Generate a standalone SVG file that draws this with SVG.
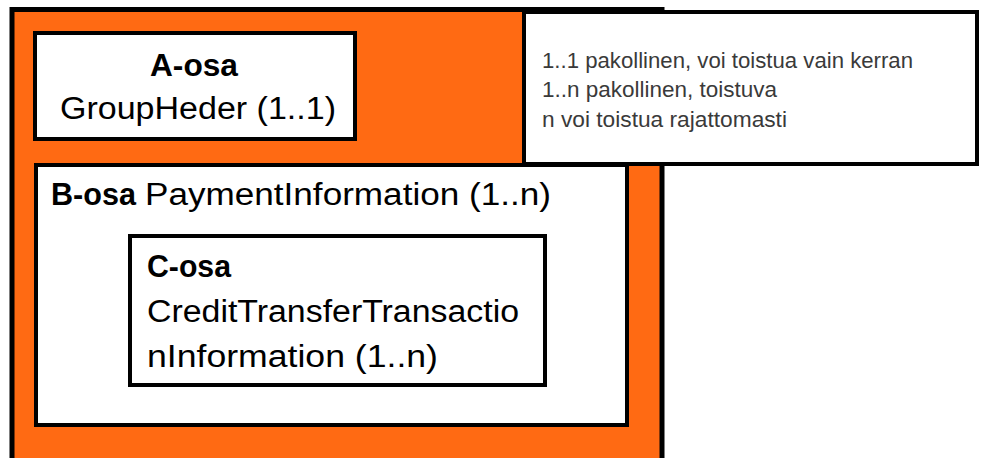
<svg xmlns="http://www.w3.org/2000/svg" width="982" height="458" viewBox="0 0 982 458">
<style>
.box{fill:#ffffff;stroke:#000000;stroke-width:4}
.t{font-family:"Liberation Sans",Arial,sans-serif;fill:#000000;font-size:31px}
.b{font-weight:bold}
.lg{font-family:"Liberation Sans",Arial,sans-serif;fill:#3a3a3a;font-size:22px}
</style>
<rect width="982" height="458" fill="#ffffff"/>
<g id="outer">
<rect x="12" y="9.5" width="650" height="470" fill="#FF6A13" stroke="#000000" stroke-width="5"/>
</g>
<g id="legend">
<rect class="box" x="524" y="12" width="453" height="152"/>
<text class="lg" x="542" y="68" textLength="371" lengthAdjust="spacingAndGlyphs">1..1 pakollinen, voi toistua vain kerran</text>
<text class="lg" x="542" y="97" textLength="235" lengthAdjust="spacingAndGlyphs">1..n pakollinen, toistuva</text>
<text class="lg" x="542" y="127" textLength="245" lengthAdjust="spacingAndGlyphs">n voi toistua rajattomasti</text>
</g>
<g id="a-osa">
<rect class="box" x="35" y="33" width="320" height="106"/>
<text class="t b" x="150" y="76" textLength="88" lengthAdjust="spacingAndGlyphs">A-osa</text>
<text class="t" x="60" y="119" textLength="276" lengthAdjust="spacingAndGlyphs">GroupHeder (1..1)</text>
</g>
<g id="b-osa">
<rect class="box" x="36" y="165" width="591" height="260"/>
<text class="t b" x="51" y="205" textLength="85" lengthAdjust="spacingAndGlyphs">B-osa</text>
<text class="t" x="145" y="205" textLength="406" lengthAdjust="spacingAndGlyphs">PaymentInformation (1..n)</text>
</g>
<g id="c-osa">
<rect class="box" x="130" y="236" width="415" height="149"/>
<text class="t b" x="147" y="277" textLength="84" lengthAdjust="spacingAndGlyphs">C-osa</text>
<text class="t" x="147" y="322" textLength="372" lengthAdjust="spacingAndGlyphs">CreditTransferTransactio</text>
<text class="t" x="147" y="367" textLength="291" lengthAdjust="spacingAndGlyphs">nInformation (1..n)</text>
</g>
<g id="connectors"></g>
</svg>
